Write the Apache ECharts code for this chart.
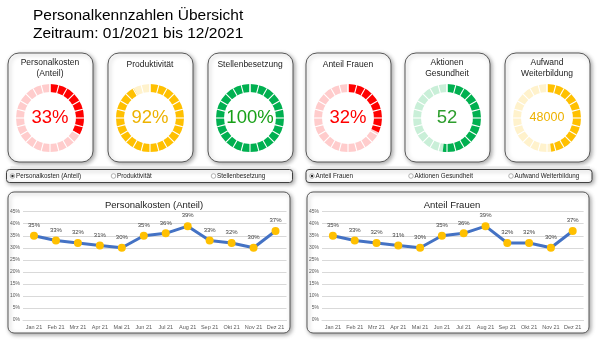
<!DOCTYPE html>
<html>
<head>
<meta charset="utf-8">
<script src="https://cdn.jsdelivr.net/npm/echarts@6/dist/echarts.min.js"></script>
<style>
  html, body { margin: 0; padding: 0; background: #ffffff; }
  #main { width: 600px; height: 341px; }
</style>
</head>
<body>
<div id="main"></div>
<script>
// ---- Data ----
const months = ['Jan 21', 'Feb 21', 'Mrz 21', 'Apr 21', 'Mai 21', 'Jun 21',
                'Jul 21', 'Aug 21', 'Sep 21', 'Okt 21', 'Nov 21', 'Dez 21'];
const personalkosten = [35, 33, 32, 31, 30, 35, 36, 39, 33, 32, 30, 37];
const anteilFrauen = [35, 33, 32, 31, 30, 35, 36, 39, 32, 32, 30, 37];
const yTicks = { min: 0, max: 45, step: 5 };

const kpiNames = ['Personalkosten\n(Anteil)', 'Produktivität', 'Stellenbesetzung',
                  'Anteil Frauen', 'Aktionen\nGesundheit', 'Aufwand\nWeiterbildung'];
const kpiValues = [33, 92, 100, 32, 52, 48000];
const kpiMax = [100, 100, 100, 100, 100, 100000];
const kpiUnits = ['%', '%', '%', '%', '', ''];
const ringSegments = 24;

const radioLeft = ['Personalkosten (Anteil)', 'Produktivität', 'Stellenbesetzung'];
const radioRight = ['Anteil Frauen', 'Aktionen Gesundheit', 'Aufwand Weiterbildung'];

const titleLines = ['Personalkennzahlen Übersicht', 'Zeitraum: 01/2021 bis 12/2021'];
const chartTitles = ['Personalkosten (Anteil)', 'Anteil Frauen'];

// ---- Styling ----
const FONT = 'Liberation Sans, Arial, sans-serif';
const palette = [
  { dark: '#FF0000', light: '#FFCCCC', text: '#FF0000', size: 18.5 },
  { dark: '#FFC000', light: '#FFF2CC', text: '#EDB200', size: 18.5 },
  { dark: '#00B050', light: '#C9EFD8', text: '#17A017', size: 18.5 },
  { dark: '#FF0000', light: '#FFCCCC', text: '#FF0000', size: 18.5 },
  { dark: '#00B050', light: '#C9EFD8', text: '#2E9E2E', size: 18.5 },
  { dark: '#FFC000', light: '#FFF2CC', text: '#EDB200', size: 12.5 }
];
const cardCenters = [50, 150, 250, 348, 447, 547];
const gaugeY = 118;
const ringRadius = 34;
const ringWidth = 8;

const chart = echarts.init(document.getElementById('main'), null, { renderer: 'canvas' });

const shadow = { shadowBlur: 4, shadowOffsetX: 1.5, shadowOffsetY: 1.5, shadowColor: 'rgba(0,0,0,0.35)' };
const graphics = [];

// page title
titleLines.forEach((t, i) => {
  graphics.push({ type: 'text', left: 33, top: 8 + i * 18,
    style: { text: t, font: '15.5px ' + FONT, fill: '#000' } });
});

// KPI cards
cardCenters.forEach((cx, i) => {
  graphics.push({ type: 'rect', shape: { x: cx - 42, y: 53, width: 85, height: 109, r: 11 },
    style: Object.assign({ fill: '#fff', stroke: '#595959', lineWidth: 1 }, shadow), z: 0 });
  const twoLine = kpiNames[i].indexOf('\n') >= 0;
  graphics.push({ type: 'text', x: cx, y: twoLine ? 57 : 59, z: 5,
    style: { text: kpiNames[i], font: '8.5px ' + FONT, fill: '#222', align: 'center',
             lineHeight: 11 } });
});

// radio button bars
function radioBar(x0, labels, offsets) {
  graphics.push({ type: 'line', shape: { x1: x0 + 4, y1: 167, x2: x0 + 284, y2: 167 },
    style: { stroke: '#E6E6E6', lineWidth: 1 } });
  graphics.push({ type: 'rect', shape: { x: x0, y: 169.5, width: 286, height: 13, r: 3 },
    style: Object.assign({ fill: '#fff', stroke: '#404040', lineWidth: 1 }, shadow) });
  labels.forEach((lab, i) => {
    const cx = x0 + offsets[i];
    graphics.push({ type: 'circle', shape: { cx: cx, cy: 176, r: 2.3 },
      style: { fill: '#fff', stroke: '#808080', lineWidth: 0.6 }, z: 3 });
    if (i === 0) {
      graphics.push({ type: 'circle', shape: { cx: cx, cy: 176, r: 1.2 },
        style: { fill: '#222' }, z: 4 });
    }
    graphics.push({ type: 'text', x: cx + 3.5, y: 176, z: 4,
      style: { text: lab, font: '6.3px ' + FONT, fill: '#222', verticalAlign: 'middle' } });
  });
}
radioBar(6.5, radioLeft, [6, 107, 207]);
radioBar(306, radioRight, [6, 105, 205]);

// line chart cards
[8, 307].forEach(x0 => {
  graphics.push({ type: 'rect', shape: { x: x0, y: 192, width: 282, height: 141, r: 6 },
    style: Object.assign({ fill: '#fff', stroke: '#595959', lineWidth: 1 }, shadow), z: 0 });
});

// ---- Series ----
const series = [];
const hidden = {
  axisTick: { show: false }, axisLabel: { show: false },
  pointer: { show: false }, anchor: { show: false }, title: { show: false }
};
kpiValues.forEach((v, i) => {
  const p = palette[i];
  // ring: light background track plus filled progress arc
  series.push(Object.assign({
    type: 'gauge', center: [cardCenters[i], gaugeY], radius: ringRadius,
    startAngle: 90, endAngle: -270, min: 0, max: kpiMax[i],
    axisLine: { lineStyle: { width: ringWidth, color: [[1, p.light]] } },
    progress: { show: true, width: ringWidth, itemStyle: { color: p.dark } },
    splitLine: { show: false },
    detail: { offsetCenter: [0, 0], formatter: '{value}' + kpiUnits[i],
      fontSize: p.size, fontWeight: 'normal', fontFamily: FONT, color: p.text },
    data: [{ value: v }], z: 3
  }, hidden));
  // white dividers cutting the ring into equal segments
  series.push(Object.assign({
    type: 'gauge', center: [cardCenters[i], gaugeY], radius: ringRadius,
    startAngle: 90, endAngle: -270, min: 0, max: kpiMax[i], splitNumber: ringSegments,
    axisLine: { show: false, lineStyle: { width: ringWidth } },
    progress: { show: false },
    splitLine: { show: true, distance: -ringWidth, length: ringWidth + 0.5,
      lineStyle: { color: '#fff', width: 1.1 } },
    detail: { show: false },
    data: [{ value: 0 }], z: 6
  }, hidden));
});

function lineSeries(idx, values) {
  return {
    type: 'line', xAxisIndex: idx, yAxisIndex: idx, data: values,
    lineStyle: { color: '#4472C4', width: 3 },
    symbol: 'circle', symbolSize: 8, itemStyle: { color: '#FFC000' },
    label: { show: true, position: 'top', distance: 3.5, formatter: '{c}%',
      fontSize: 6, color: '#404040', fontFamily: FONT },
    z: 5
  };
}
series.push(lineSeries(0, personalkosten));
series.push(lineSeries(1, anteilFrauen));

function xAxis(idx) {
  return { type: 'category', gridIndex: idx, data: months,
    axisTick: { show: false }, axisLine: { lineStyle: { color: '#D9D9D9' } },
    axisLabel: { fontSize: 5.5, color: '#595959', margin: 4, interval: 0, fontFamily: FONT } };
}
function yAxis(idx) {
  return { type: 'value', gridIndex: idx, min: yTicks.min, max: yTicks.max, interval: yTicks.step,
    axisLine: { show: false }, axisTick: { show: false },
    splitLine: { lineStyle: { color: '#D9D9D9', width: 1 } },
    axisLabel: { formatter: '{value}%', fontSize: 5, color: '#595959', margin: 3, fontFamily: FONT } };
}

chart.setOption({
  animation: false,
  backgroundColor: '#ffffff',
  title: chartTitles.map((t, i) => ({
    text: t, left: i === 0 ? 149 : 447, top: 195, textAlign: 'center',
    textStyle: { fontSize: 9.5, fontWeight: 'normal', color: '#222', fontFamily: FONT }
  })),
  grid: [
    { left: 23, right: 600 - 286.5, top: 211.7, bottom: 341 - 320, outerBoundsMode: 'none' },
    { left: 322, right: 600 - 583.6, top: 211.7, bottom: 341 - 320, outerBoundsMode: 'none' }
  ],
  xAxis: [xAxis(0), xAxis(1)],
  yAxis: [yAxis(0), yAxis(1)],
  graphic: { elements: graphics },
  series: series
});
</script>
</body>
</html>
